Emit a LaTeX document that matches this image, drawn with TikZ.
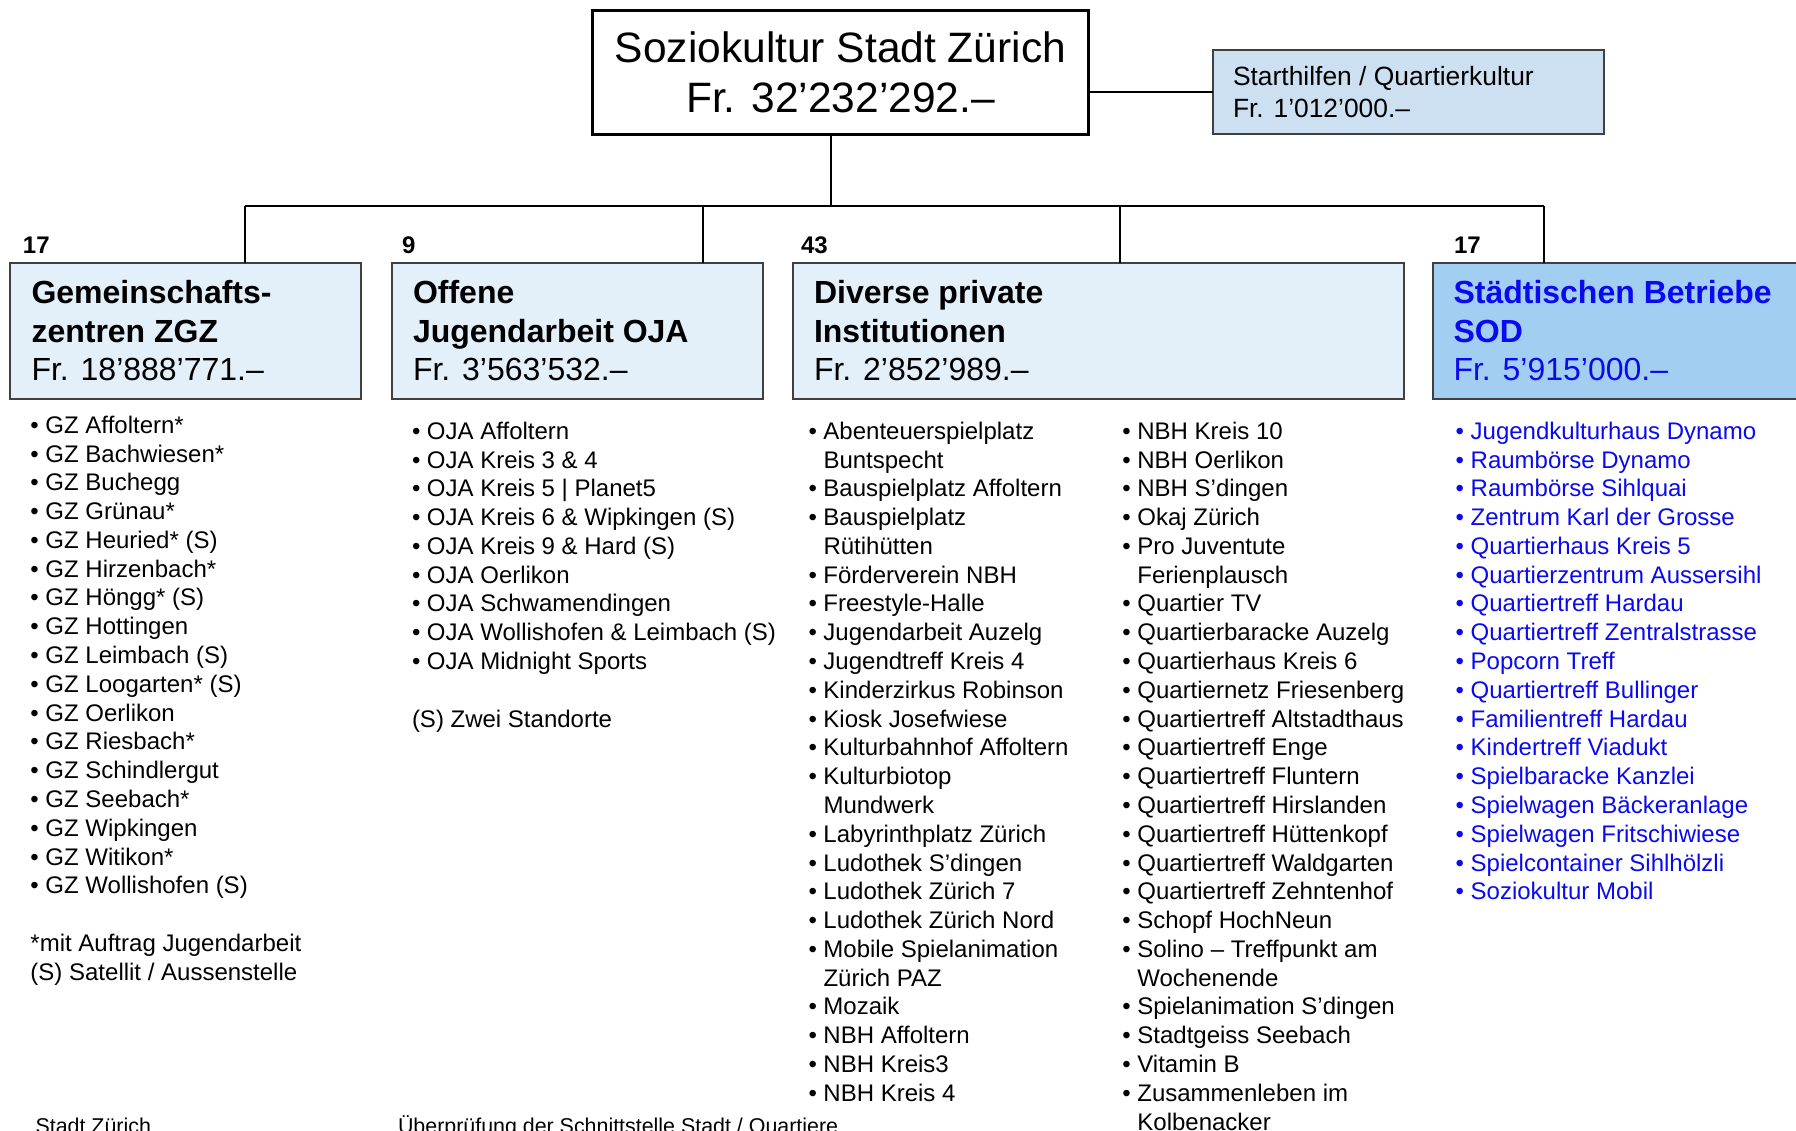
\documentclass[tikz,border=0pt]{standalone}
\usepackage{fontspec}
\setmainfont{Liberation Sans}
\definecolor{boxfill}{HTML}{E3F0FA}
\definecolor{sodfill}{HTML}{A2CEF2}
\definecolor{shfill}{HTML}{CCE0F1}
\definecolor{sodblue}{HTML}{0A0AF0}
\definecolor{boxline}{HTML}{404040}
\newcommand\blt{\makebox[15pt][l]{•}}
\newcommand\cnt{\hspace*{15pt}}
\newcommand\fs[2]{\fontsize{#1}{#2}\selectfont}
\begin{document}
\begin{tikzpicture}[x=1pt,y=-1pt,
  catbox/.style={draw=boxline, line width=2pt, fill=boxfill, inner sep=0pt, outer sep=0pt, anchor=north west},
  txt/.style={inner sep=0pt, outer sep=0pt, anchor=base west},
  headb/.style={txt, font=\fs{32}{38}\bfseries},
  headr/.style={txt, font=\fs{32}{38}},
  countlbl/.style={txt, font=\fs{24}{28}\bfseries},
  li/.style={txt, font=\fs{24}{28.78}},
  link/.style={draw=black, line width=2pt}]
\useasboundingbox (0,0) rectangle (1796,1131);
\clip (0,0) rectangle (1796,1131);
\fill[white] (0,0) rectangle (1796,1131);

% top box
\node[draw=black, line width=3.5pt, fill=white, inner sep=0pt, outer sep=0pt, anchor=north west,
  minimum width=496pt, minimum height=124pt] (top) at (592.5,10.5) {};
\node[inner sep=0pt, anchor=base, font=\fs{42.5}{50}] (t1) at (840.5,62.7) {Soziokultur Stadt Zürich};
\node[inner sep=0pt, anchor=base, font=\fs{42.5}{50}] (t2) at (840.5,112.7) {Fr. 32’232’292.–};

% Starthilfen box
\node[draw=boxline, line width=2pt, fill=shfill, inner sep=0pt, outer sep=0pt, anchor=north west,
  minimum width=391pt, minimum height=84pt] (sh) at (1213,50.5) {};
\node[txt, font=\fs{26.4}{31.3}] (sh1) at (1233,86) {Starthilfen / Quartierkultur};
\node[txt, font=\fs{26.4}{31.3}] (sh2) at (1233,117.3) {Fr. 1’012’000.–};

% bus
\coordinate (tdrop) at (831,206);
\coordinate (d1) at (245,206);
\coordinate (d2) at (703,206);
\coordinate (d3) at (1119.5,206);
\coordinate (d4) at (1544,206);

% category boxes
\node[catbox, minimum width=350.5pt, minimum height=135pt] (gz) at (10.3,263.5) {};
\node[catbox, minimum width=371pt, minimum height=135pt] (oja) at (391.7,263.5) {};
\node[catbox, minimum width=611.7pt, minimum height=135pt] (pri) at (792.6,263.5) {};
\node[catbox, fill=sodfill, minimum width=380pt, minimum height=135pt] (sod) at (1433,263.5) {};

% connectors
\draw[link] (top.east |- sh.west) -- (sh.west);
\draw[link] (tdrop |- top.south) -- (tdrop);
\draw[link] (d1) -- (d4);
\draw[link] (d1) -- (d1 |- gz.north);
\draw[link] (d2) -- (d2 |- oja.north);
\draw[link] (d3) -- (d3 |- pri.north);
\draw[link] (d4) -- (d4 |- sod.north);

% counts
\node[countlbl] (n1) at (23,254) {17};
\node[countlbl] (n2) at (402,254) {9};
\node[countlbl] (n3) at (801,254) {43};
\node[countlbl] (n4) at (1454,254) {17};

% headings
\node[headb] (gzh1) at (31.5,303.3) {Gemeinschafts-};
\node[headb] (gzh2) at (31.5,342.3) {zentren ZGZ};
\node[headr] (gzh3) at (31.5,380.5) {Fr. 18’888’771.–};
\node[headb] (ojah1) at (413,303.3) {Offene};
\node[headb] (ojah2) at (413,342.3) {Jugendarbeit OJA};
\node[headr] (ojah3) at (413,380.5) {Fr. 3’563’532.–};
\node[headb] (prih1) at (814,303.3) {Diverse private};
\node[headb] (prih2) at (814,342.3) {Institutionen};
\node[headr] (prih3) at (814,380.5) {Fr. 2’852’989.–};
\node[headb, text=sodblue] (sodh1) at (1453.5,303.3) {Städtischen Betriebe};
\node[headb, text=sodblue] (sodh2) at (1453.5,342.3) {SOD};
\node[headr, text=sodblue] (sodh3) at (1453.5,380.5) {Fr. 5’915’000.–};

% column 1
\foreach \t [count=\i from 0] in {{\blt GZ Affoltern*},{\blt GZ Bachwiesen*},{\blt GZ Buchegg},{\blt GZ Grünau*},{\blt GZ Heuried* (S)},{\blt GZ Hirzenbach*},{\blt GZ Höngg* (S)},{\blt GZ Hottingen},{\blt GZ Leimbach (S)},{\blt GZ Loogarten* (S)},{\blt GZ Oerlikon},{\blt GZ Riesbach*},{\blt GZ Schindlergut},{\blt GZ Seebach*},{\blt GZ Wipkingen},{\blt GZ Witikon*},{\blt GZ Wollishofen (S)}}
  \node[li] (ca\i) at (30.5,{433.3+\i*28.78}) {\t};
\node[li] (canote1) at (30.5,951.3) {*mit Auftrag Jugendarbeit};
\node[li] (canote2) at (30.5,980) {(S) Satellit / Aussenstelle};

% column 2
\foreach \t [count=\i from 0] in {{\blt OJA Affoltern},{\blt OJA Kreis 3 \& 4},{\blt OJA Kreis 5 | Planet5},{\blt OJA Kreis 6 \& Wipkingen (S)},{\blt OJA Kreis 9 \& Hard (S)},{\blt OJA Oerlikon},{\blt OJA Schwamendingen},{\blt OJA Wollishofen \& Leimbach (S)},{\blt OJA Midnight Sports}}
  \node[li] (cb\i) at (412,{439.3+\i*28.78}) {\t};
\node[li] (cbnote) at (412,727.1) {(S) Zwei Standorte};

% column 3
\foreach \t [count=\i from 0] in {{\blt Abenteuerspielplatz},{\cnt Buntspecht},{\blt Bauspielplatz Affoltern},{\blt Bauspielplatz},{\cnt Rütihütten},{\blt Förderverein NBH},{\blt Freestyle-Halle},{\blt Jugendarbeit Auzelg},{\blt Jugendtreff Kreis 4},{\blt Kinderzirkus Robinson},{\blt Kiosk Josefwiese},{\blt Kulturbahnhof Affoltern},{\blt Kulturbiotop},{\cnt Mundwerk},{\blt Labyrinthplatz Zürich},{\blt Ludothek S’dingen},{\blt Ludothek Zürich 7},{\blt Ludothek Zürich Nord},{\blt Mobile Spielanimation},{\cnt Zürich PAZ},{\blt Mozaik},{\blt NBH Affoltern},{\blt NBH Kreis3},{\blt NBH Kreis 4}}
  \node[li] (cc\i) at (808.5,{439.3+\i*28.78}) {\t};

% column 4
\foreach \t [count=\i from 0] in {{\blt NBH Kreis 10},{\blt NBH Oerlikon},{\blt NBH S’dingen},{\blt Okaj Zürich},{\blt Pro Juventute},{\cnt Ferienplausch},{\blt Quartier TV},{\blt Quartierbaracke Auzelg},{\blt Quartierhaus Kreis 6},{\blt Quartiernetz Friesenberg},{\blt Quartiertreff Altstadthaus},{\blt Quartiertreff Enge},{\blt Quartiertreff Fluntern},{\blt Quartiertreff Hirslanden},{\blt Quartiertreff Hüttenkopf},{\blt Quartiertreff Waldgarten},{\blt Quartiertreff Zehntenhof},{\blt Schopf HochNeun},{\blt Solino – Treffpunkt am},{\cnt Wochenende},{\blt Spielanimation S’dingen},{\blt Stadtgeiss Seebach},{\blt Vitamin B},{\blt Zusammenleben im},{\cnt Kolbenacker}}
  \node[li] (cd\i) at (1122.4,{439.3+\i*28.78}) {\t};

% column 5
\foreach \t [count=\i from 0] in {{\blt Jugendkulturhaus Dynamo},{\blt Raumbörse Dynamo},{\blt Raumbörse Sihlquai},{\blt Zentrum Karl der Grosse},{\blt Quartierhaus Kreis 5},{\blt Quartierzentrum Aussersihl},{\blt Quartiertreff Hardau},{\blt Quartiertreff Zentralstrasse},{\blt Popcorn Treff},{\blt Quartiertreff Bullinger},{\blt Familientreff Hardau},{\blt Kindertreff Viadukt},{\blt Spielbaracke Kanzlei},{\blt Spielwagen Bäckeranlage},{\blt Spielwagen Fritschiwiese},{\blt Spielcontainer Sihlhölzli},{\blt Soziokultur Mobil}}
  \node[li, text=sodblue] (ce\i) at (1455.7,{439.3+\i*28.78}) {\t};

% footer
\node[txt, font=\fs{21.4}{25}] (foot1) at (35.6,1133) {Stadt Zürich};
\node[txt, font=\fs{21.4}{25}] (foot2) at (398,1133) {Überprüfung der Schnittstelle Stadt / Quartiere};
\end{tikzpicture}
\end{document}
